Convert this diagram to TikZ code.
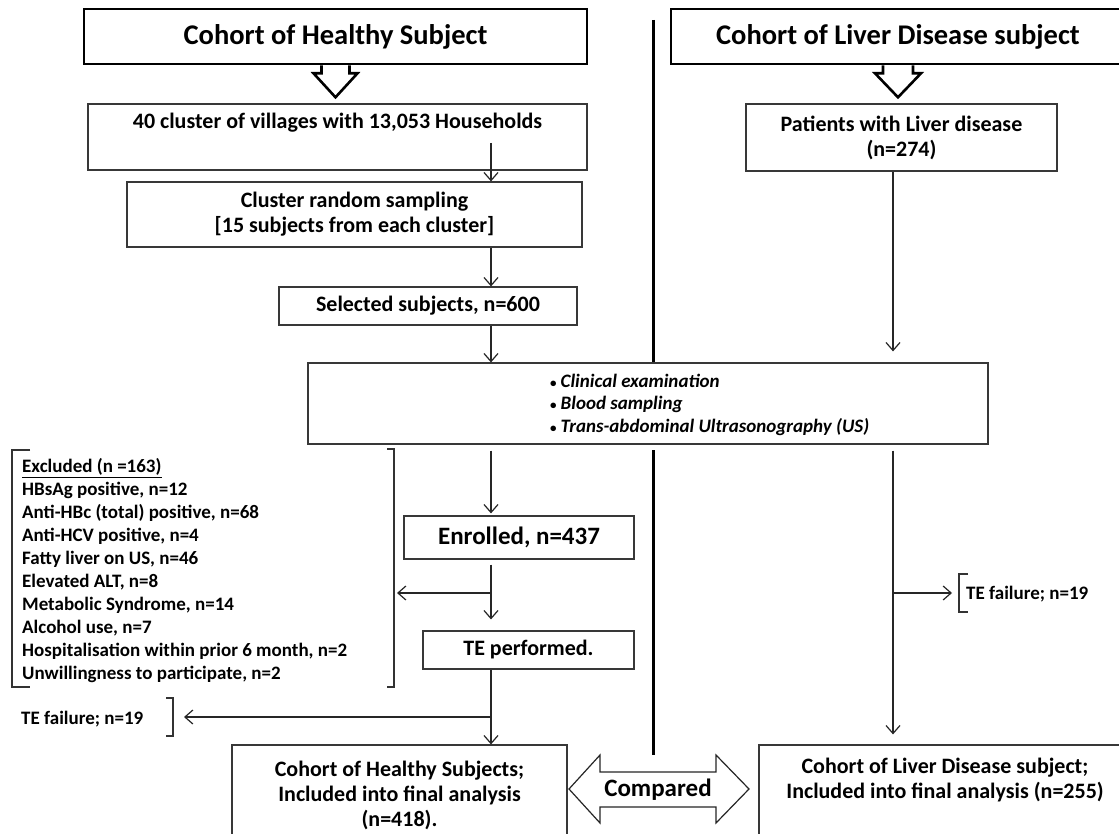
\documentclass[tikz,border=0pt]{standalone}
\usepackage{fontspec}
\setmainfont{Carlito}
\usetikzlibrary{arrows.meta,calc}
\begin{document}
\begin{tikzpicture}[x=1pt,y=-1pt,
  box/.style={draw=black!78, line width=1.2pt, fill=white, inner sep=0pt, align=center, font=\fontsize{22}{25}\selectfont\bfseries},
  plain/.style={inner sep=0pt, align=center, font=\fontsize{22}{25}\selectfont\bfseries},
  topbox/.style={draw=black, line width=2.6pt, fill=white, inner sep=0pt, align=center, font=\fontsize{28.5}{32}\selectfont\bfseries},
  txt/.style={inner sep=0pt, align=left, font=\fontsize{19}{23}\selectfont\bfseries},
  arr/.style={draw=black!85, line width=1.2pt, -{Straight Barb[length=8pt,width=14pt,line width=1.2pt]}},
  ln/.style={draw=black!85, line width=1.2pt},
  divider/.style={draw=black, line width=3pt},
  blockarr/.style={draw=black, line width=2.6pt, line join=miter},
  bracket/.style={draw=black!80, line width=1.2pt}]
\useasboundingbox[fill=white] (0,0) rectangle (1119,834);

% divider
\coordinate (dtop) at (653,20);
\coordinate (dbot) at (653,755);

% top boxes
\node[topbox, minimum width=503pt, minimum height=55pt] (topL) at (335.5,36.5) {Cohort of Healthy Subject};
\node[topbox, minimum width=454pt, minimum height=55pt] (topR) at (898,36.5) {Cohort of Liver Disease subject};
\draw[blockarr] ([xshift=-14pt]topL.south) -- ++(0,8) -- ++(-8,0) -- ++(22,24) -- ++(22,-24) -- ++(-8,0) -- ++(0,-8);
\draw[blockarr] ([xshift=-15pt]topR.south) -- ++(0,8) -- ++(-8,0) -- ++(23,24) -- ++(23,-24) -- ++(-8,0) -- ++(0,-8);

% left column
\node[box, minimum width=499pt, minimum height=66pt] (vill) at (337.5,137) {};
\node[plain] (villt) at (337.5,123) {40 cluster of villages with 13,053 Households};
\node[box, minimum width=455pt, minimum height=65pt] (crs) at (354.5,214.5) {Cluster random sampling\\{[15 subjects from each cluster]}};
\node[box, minimum width=298pt, minimum height=38pt] (sel) at (428,306) {Selected subjects, n=600};

% right column
\node[box, minimum width=311pt, minimum height=67pt] (pat) at (901.5,137.5) {Patients with Liver disease\\(n=274)};

% divider segments
\draw[divider] (dtop) -- (dtop |- 0,363);
\draw[divider] (dtop |- 0,450) -- (dbot);

% examination box
\node[box, minimum width=680pt, minimum height=81pt] (exam) at (648,403.5) {};
\node[txt, anchor=west, font=\fontsize{19}{22.5}\selectfont\bfseries\itshape] (examt) at (550,404.5)
  {{\upshape\fontsize{13}{13}\selectfont\textbullet}\hspace{4pt}Clinical examination\\
   {\upshape\fontsize{13}{13}\selectfont\textbullet}\hspace{4pt}Blood sampling\\
   {\upshape\fontsize{13}{13}\selectfont\textbullet}\hspace{4pt}Trans-abdominal Ultrasonography (US)};

\node[box, minimum width=230pt, minimum height=43pt, font=\fontsize{25}{28}\selectfont\bfseries] (enr) at (519,537.5) {Enrolled, n=437};
\node[box, minimum width=211pt, minimum height=38pt] (te) at (528.5,650) {TE performed.};

% bottom boxes
\node[box, minimum width=335pt, minimum height=100pt] (finL) at (399.5,795) {Cohort of Healthy Subjects;\\Included into final analysis\\(n=418).};
\node[box, minimum width=372pt, minimum height=100pt] (finR) at (945,795) {};
\node[plain] (finRt) at (945,780) {Cohort of Liver Disease subject;\\Included into final analysis (n=255)};

% excluded list
\node[txt, anchor=west] (excl) at (22,571) {\underline{Excluded (n =163)}\\HBsAg positive, n=12\\Anti-HBc (total) positive, n=68\\Anti-HCV positive, n=4\\Fatty liver on US, n=46\\Elevated ALT, n=8\\Metabolic Syndrome, n=14\\Alcohol use, n=7\\Hospitalisation within prior 6 month, n=2\\Unwillingness to participate, n=2};
\draw[bracket] (30,450) -- (12,450) -- (12,687) -- (30,687);
\draw[bracket] (387,449) -- (394,449) -- (394,687) -- (387,687);

\node[txt, anchor=west] (tefL) at (21,719) {TE failure; n=19};
\draw[bracket] (166,698) -- (173,698) -- (173,736) -- (166,736);
\node[txt, anchor=west] (tefR) at (966,594) {TE failure; n=19};
\draw[bracket] (968,574) -- (959,574) -- (959,612) -- (968,612);

% connectors
\coordinate (cL) at (491,0);
\coordinate (cR) at (893,0);
\coordinate (villout) at (491,143);
\draw[arr] (villout) -- (cL |- crs.north);
\draw[arr] (cL |- crs.south) -- (cL |- sel.north);
\draw[arr] (cL |- sel.south) -- (cL |- exam.north);
\draw[arr] ($(cL |- exam.south)+(0,6)$) -- ($(cL |- enr.north)+(0,-2)$);
\draw[arr] ($(cL |- enr.south)+(0,5)$) -- ($(cL |- te.north)+(0,-11)$);
\coordinate (b1) at (491,593);
\coordinate (exR) at (397,593);
\draw[arr] (b1) -- (exR);
\draw[arr] (cL |- te.south) -- (cL |- finL.north);
\coordinate (b2) at (491,717);
\coordinate (tefLend) at (184,717);
\draw[arr] (b2) -- (tefLend);
\draw[arr] (cR |- pat.south) -- ($(cR |- exam.north)+(0,-11)$);
\draw[arr] ($(cR |- exam.south)+(0,6)$) -- ($(cR |- finR.north)+(0,-10)$);
\coordinate (b3) at (893,593);
\coordinate (tefRend) at (952,593);
\draw[arr] (b3) -- (tefRend);

% compared double arrow
\draw[ln, fill=white, line join=miter] (569,789) -- (600,755) -- (600,772) -- (716,772) -- (716,755) -- (749,789) -- (716,823) -- (716,807) -- (600,807) -- (600,823) -- cycle;
\node[plain, font=\fontsize{25}{28}\selectfont\bfseries] (cmp) at (658,790) {Compared};
\end{tikzpicture}
\end{document}
